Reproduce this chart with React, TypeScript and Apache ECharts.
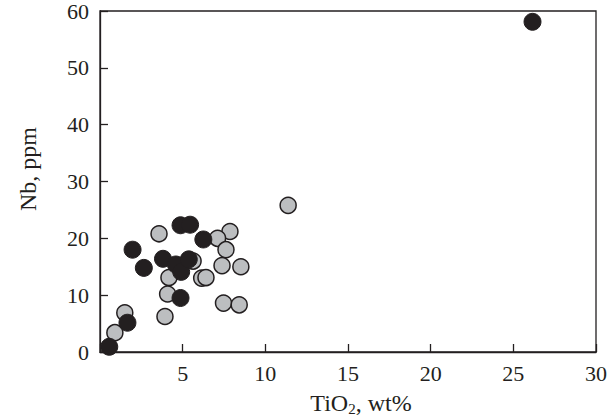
import React, { useEffect, useRef } from "react";
import * as echarts from "echarts";

const grayPoints: [number, number][] = [
  [3.57, 20.8], [1.5, 6.9], [0.9, 3.4], [4.17, 13.1], [4.09, 10.2], [3.93, 6.25],
  [5.63, 16.0], [6.15, 13.0], [6.41, 13.1], [7.86, 21.2], [7.11, 20.0], [7.62, 18.0],
  [7.38, 15.2], [8.52, 15.0], [7.47, 8.6], [8.42, 8.3], [11.38, 25.8],
];
const blackPoints: [number, number][] = [
  [0.56, 0.92], [1.66, 5.15], [1.97, 18.0], [2.65, 14.8], [3.81, 16.4], [4.59, 15.4],
  [4.91, 14.1], [4.87, 9.5], [4.87, 22.3], [5.45, 22.4], [5.37, 16.3], [6.25, 19.8],
  [26.16, 58.1],
];
const xTicks = [0, 5, 10, 15, 20, 25, 30];
const yTicks = [0, 10, 20, 30, 40, 50, 60];

const INK = "#231f20";
const FONT = "Liberation Serif";

export default function App() {
  const ref = useRef<HTMLDivElement>(null);
  useEffect(() => {
    if (!ref.current) return;
    const chart = echarts.init(ref.current, null, { renderer: "svg" });
    const axisCommon = {
      axisLine: { show: true, lineStyle: { color: INK, width: 1.3 } },
      axisTick: { show: true, inside: true, length: 8, lineStyle: { color: INK, width: 1.3 } },
      splitLine: { show: false },
    };
    chart.setOption({
      animation: false,
      grid: {
        left: 100, top: 7, right: 11, bottom: 66,
        show: true, borderColor: INK, borderWidth: 1.3,
      },
      xAxis: {
        type: "value",
        min: xTicks[0],
        max: xTicks[xTicks.length - 1],
        interval: 5,
        ...axisCommon,
        axisLabel: {
          color: INK, fontFamily: FONT, fontSize: 22, margin: 10,
          formatter: (v: number) => (v === 0 ? "" : String(v)),
        },
      },
      yAxis: {
        type: "value",
        min: yTicks[0],
        max: yTicks[yTicks.length - 1],
        interval: 10,
        ...axisCommon,
        axisLabel: { color: INK, fontFamily: FONT, fontSize: 22, margin: 11 },
      },
      graphic: [
        {
          type: "text",
          x: 28,
          y: 169,
          rotation: Math.PI / 2,
          style: {
            text: "Nb, ppm",
            fill: INK,
            fontFamily: FONT,
            fontSize: 24,
            align: "center",
            verticalAlign: "middle",
          },
        },
        {
          type: "text",
          x: 361,
          y: 403,
          style: {
            text: "{a|TiO}{s|2}{a|, wt%}",
            align: "center",
            verticalAlign: "middle",
            rich: {
              a: { fontFamily: FONT, fontSize: 24, fill: INK, color: INK },
              s: { fontFamily: FONT, fontSize: 15, fill: INK, color: INK, padding: [12, 0, 0, 0] },
            },
          },
        },
      ],
      series: [
        {
          type: "scatter",
          data: grayPoints,
          symbol: "circle",
          symbolSize: 16,
          itemStyle: { color: "#bcbec0", borderColor: INK, borderWidth: 1.5, opacity: 1 },
          z: 2,
        },
        {
          type: "scatter",
          data: blackPoints,
          symbol: "circle",
          symbolSize: 17,
          itemStyle: { color: INK, borderColor: INK, borderWidth: 1, opacity: 1 },
          z: 3,
        },
      ],
    });
    return () => chart.dispose();
  }, []);
  return <div ref={ref} style={{ width: 610, height: 418, position: "absolute", left: 0, top: 0 }} />;
}
